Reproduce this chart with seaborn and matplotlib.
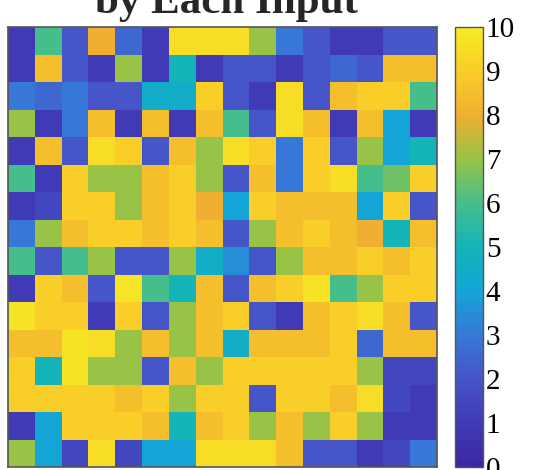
import numpy as np
import matplotlib
matplotlib.use("Agg")
import matplotlib.pyplot as plt
import seaborn as sns
from matplotlib.colors import LinearSegmentedColormap

# grid values, row 0 = top
row_00 = [1, 6, 2, 8, 2.5, 1, 9.5, 9.5, 9.5, 7, 3, 2, 1, 1, 2, 2]
row_01 = [1, 8.5, 2, 1, 7, 1, 5, 1, 2, 2, 1, 2, 2.5, 2, 8.5, 8.5]
row_02 = [3, 2.5, 3, 2, 2, 4.5, 4.5, 9, 2, 1, 9.5, 2, 8.5, 9, 9, 6]
row_03 = [7, 1, 3, 8.5, 1, 8.5, 1, 8.5, 6, 2, 9.5, 8.5, 1, 8.5, 4, 1]
row_04 = [1, 8.5, 2, 9.5, 9, 2, 8.5, 7, 9.5, 9, 3, 9, 2, 7, 4, 5]
row_05 = [6, 1, 9, 7, 7, 8.5, 9, 7, 2, 8.5, 3, 9, 9.5, 6, 6.5, 9]
row_06 = [1, 1.5, 9, 9, 7, 8.5, 9, 8, 4, 9, 8.5, 8.5, 8.5, 4, 9, 2]
row_07 = [3, 7, 8.5, 9, 9, 8.5, 9, 8.5, 2, 7, 8.5, 9, 8.5, 8, 5, 8.5]
row_08 = [6, 2, 6, 7, 2, 2, 7, 4.5, 3.5, 2, 7, 8.5, 8.5, 9, 8.5, 9]
row_09 = [1, 9, 8.5, 2, 9.8, 6, 5, 8.5, 2, 8.5, 9, 9.7, 6, 7, 9, 9]
row_10 = [9.7, 9, 9, 1, 9, 2, 7, 8.5, 9, 2, 1, 8.5, 9, 9.5, 8.5, 2]
row_11 = [8.5, 8.5, 9.7, 9.5, 7, 8.5, 7, 8.5, 4.5, 8.5, 8.5, 8.5, 9, 2.5, 8.5, 8.5]
row_12 = [9, 5, 9.7, 7, 7, 2, 8.5, 7, 9, 9, 9, 9, 9, 7, 1.5, 1.5]
row_13 = [9, 9, 9, 9, 8.5, 9, 7, 9, 9, 2, 9, 9, 8.5, 9.5, 1.5, 1]
row_14 = [1, 4, 9, 9, 9, 8.5, 5, 8.5, 9, 7, 8.5, 7, 9, 7, 1, 1]
row_15 = [7, 4, 1.5, 9.5, 1.5, 4, 4, 9.5, 9.5, 9.5, 8.5, 2, 2, 1, 1.5, 3]

cbar_ticks = list(range(0, 11))
title_text = "by Each Input"

grid = np.array([row_00, row_01, row_02, row_03, row_04, row_05, row_06, row_07,
                 row_08, row_09, row_10, row_11, row_12, row_13, row_14, row_15])

# parula-like colormap, colours
anchors = [(60, 40, 160), (64, 58, 182), (70, 85, 200), (55, 120, 215),
           (20, 165, 215), (20, 180, 185), (70, 190, 140), (150, 195, 70),
           (240, 175, 50), (250, 205, 40), (245, 235, 35)]
parula = LinearSegmentedColormap.from_list(
    "parula", [(i / 10, tuple(c / 255 for c in rgb)) for i, rgb in enumerate(anchors)])

sns.set_style("white")
plt.rcParams['font.family'] = ['Liberation Serif', 'DejaVu Serif']

fig = plt.figure(figsize=(5.39, 4.70), dpi=100)
ax = fig.add_axes([8 / 539, 1 - 467 / 470, 429 / 539, 440 / 470])
cax = fig.add_axes([455 / 539, 1 - 467 / 470, 28 / 539, 440 / 470])

sns.heatmap(grid, ax=ax, cmap=parula, vmin=0, vmax=10, cbar_ax=cax,
            xticklabels=False, yticklabels=False, square=False)

for spine in ax.spines.values():
    spine.set_visible(True)
    spine.set_color("#555555")
    spine.set_linewidth(1.2)

cb = ax.collections[0].colorbar
cb.set_ticks(cbar_ticks)
cb.outline.set_visible(True)
cb.outline.set_edgecolor("#555555")
cb.outline.set_linewidth(1.0)
cax.tick_params(direction="in", length=4, width=0.8, labelsize=21, pad=2, colors="#222222")
for lbl in cax.get_yticklabels():
    lbl.set_color("black")

fig.text(226 / 539, 1 - 13 / 470, title_text, ha="center", va="baseline",
         fontsize=31, fontweight="bold")

fig.savefig("out.png", dpi=100)
